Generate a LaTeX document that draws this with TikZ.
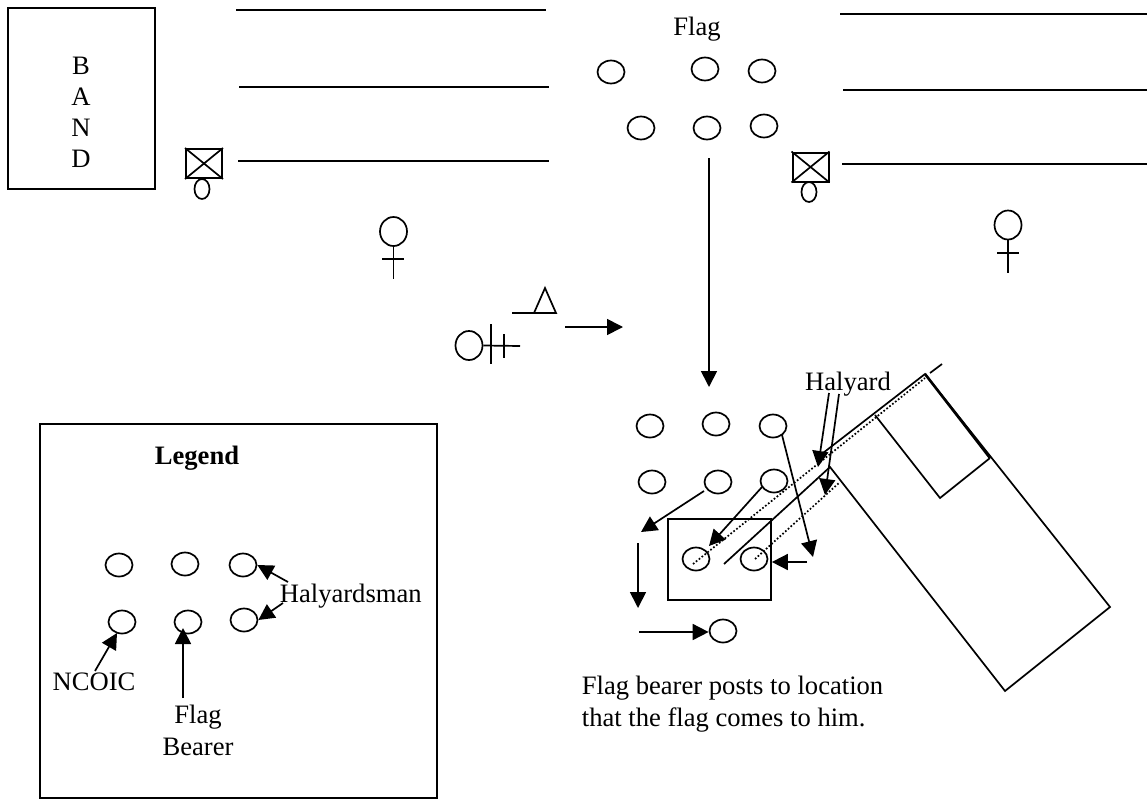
\documentclass[tikz,border=0pt]{standalone}
\usepackage{fontspec}
\setmainfont{Liberation Serif}
\usetikzlibrary{arrows.meta}
\usetikzlibrary{shapes.geometric}
\tikzset{
  body/.style={draw, ellipse, inner sep=0pt, minimum width=27, minimum height=23},
  guard/.style={draw, ellipse, inner sep=0pt, minimum width=15, minimum height=20},
  head/.style={draw, ellipse, inner sep=0pt, minimum width=27, minimum height=29},
  crate/.style={draw, rectangle, line width=2pt, inner sep=0pt, minimum width=36, minimum height=29},
  arr/.style={-{Triangle[length=16pt,width=16pt]}},
  word/.style={font=\fontsize{26.6}{31}\selectfont, inner sep=0pt},
  wordwide/.style={font=\fontsize{26.6}{32}\selectfont, inner sep=0pt}
}
\begin{document}
\begin{tikzpicture}[x=1pt,y=-1pt,line width=1.7pt]
    \useasboundingbox (0,0) rectangle (1147,800);
    % -------------------------
    % Band and ranks
    % -------------------------
    \node[draw, rectangle, inner sep=0pt, minimum width=147, minimum height=181] (band) at (81.5,98.5) {};
    \node[word, align=center] (bandname) at (81,112) {B\\A\\N\\D};
    \coordinate (l1a) at (236,10);  \coordinate (l1b) at (546,10);
    \coordinate (l2a) at (239,87);  \coordinate (l2b) at (549,87);
    \coordinate (l3a) at (238,161); \coordinate (l3b) at (549,161);
    \coordinate (r1a) at (840,14);  \coordinate (r1b) at (1147,14);
    \coordinate (r2a) at (843,90);  \coordinate (r2b) at (1147,90);
    \coordinate (r3a) at (842,164); \coordinate (r3b) at (1147,164);
    \draw (l1a) -- (l1b);
    \draw (l2a) -- (l2b);
    \draw (l3a) -- (l3b);
    \draw (r1a) -- (r1b);
    \draw (r2a) -- (r2b);
    \draw (r3a) -- (r3b);

    % -------------------------
    % Colour party, start
    % -------------------------
    \node[word] (flag) at (697,29) {Flag};
    \node[body] (a1) at (611,72) {};
    \node[body] (a2) at (705,69) {};
    \node[body] (a3) at (762,71) {};
    \node[body] (a4) at (641,128) {};
    \node[body] (a5) at (707,128) {};
    \node[body] (a6) at (764,126) {};

    % Crossed boxes
    \node[crate] (cl) at (204,163.5) {};
    \node[guard] (gl) at (202,189) {};
    \draw (cl.north west) -- (cl.south east);
    \draw (cl.north east) -- (cl.south west);
    \node[crate] (cr) at (810.5,167) {};
    \node[guard] (gr) at (809,192) {};
    \draw (cr.north west) -- (cr.south east);
    \draw (cr.north east) -- (cr.south west);

    % Standing figures
    \node[head] (hl) at (393.5,231.5) {};
    \coordinate (hle) at (393.5,279);
    \coordinate (hla) at (382,259); \coordinate (hlb) at (404,259);
    \draw (hl) -- (hle);
    \draw (hla) -- (hlb);
    \node[head] (hr) at (1008,225) {};
    \coordinate (hre) at (1008,273);
    \coordinate (hra) at (997,253); \coordinate (hrb) at (1019,253);
    \draw (hr) -- (hre);
    \draw (hra) -- (hrb);

    % Commander and triangle
    \node[head] (hm) at (469,345.5) {};
    \coordinate (hme) at (520,346);
    \coordinate (ba) at (491,324); \coordinate (bb) at (491,364);
    \coordinate (bc) at (504,334); \coordinate (bd) at (504,358);
    \draw (hm.east) -- (hme);
    \draw (ba) -- (bb);
    \draw (bc) -- (bd);
    \coordinate (ta) at (512,313); \coordinate (tb) at (534,313);
    \coordinate (tc) at (545,288); \coordinate (td) at (556,313);
    \draw (ta) -- (td) -- (tc) -- (tb);
    \coordinate (ma) at (565,327); \coordinate (mb) at (623,327);
    \draw[arr] (ma) -- (mb);
    \coordinate (da) at (709,158); \coordinate (db) at (709,387);
    \draw[arr] (da) -- (db);

    % -------------------------
    % Colour party, at the vehicle
    % -------------------------
    \node[body] (b1) at (650,426) {};
    \node[body] (b2) at (716,424) {};
    \node[body] (b3) at (773,426) {};
    \node[body] (b4) at (652,482) {};
    \node[body] (b5) at (718,482) {};
    \node[body] (b6) at (774,481) {};
    \node[body] (b7) at (696,559) {};
    \node[body] (b8) at (754,559) {};
    \node[body] (b9) at (723,631) {};
    \node[draw, rectangle, inner sep=0pt, minimum width=103, minimum height=81] (spot) at (719.5,559.5) {};

    % Vehicle
    \coordinate (v1) at (925,374);
    \coordinate (v2) at (1110,607);
    \coordinate (v3) at (1005,691);
    \coordinate (v4) at (830,467);
    \coordinate (v5) at (823,453);
    \coordinate (v6) at (724,564);
    \coordinate (c1) at (875,415);
    \coordinate (c2) at (940,498);
    \coordinate (c3) at (990,458);
    \coordinate (d1) at (930,373);
    \coordinate (d2) at (942,364);
    \draw (v6) -- (v4) -- (v3) -- (v2) -- (v1) -- (v5);
    \draw (c1) -- (c2) -- (c3);
    \draw[line width=2.6pt] (v1) -- (c3);
    \draw (d1) -- (d2);
    \coordinate (s1) at (693,564);
    \coordinate (s2) at (925,378);
    \coordinate (s3) at (755,559);
    \coordinate (s4) at (840,482);
    \draw[dotted] (s1) -- (s2);
    \draw[dotted] (s3) -- (s4);

    % Moves
    \coordinate (f1) at (782,435);
    \coordinate (f2) at (762,487);
    \coordinate (f3) at (704,491);
    \coordinate (e1) at (813,557);
    \coordinate (e2) at (709,546);
    \coordinate (e3) at (641,532);
    \coordinate (e4) at (638,543);
    \coordinate (e5) at (638,608);
    \coordinate (e6) at (639,632);
    \coordinate (e7) at (807,562);
    \draw[arr] (f1) -- (e1);
    \draw[arr] (f2) -- (e2);
    \draw[arr] (f3) -- (e3);
    \draw[arr] (e4) -- (e5);
    \draw[arr] (e6) -- (b9.west |- e6);
    \draw[arr] (e7) -- (spot.east |- e7);

    \node[word] (halyard) at (848,384) {Halyard};
    \coordinate (h1a) at (829,393); \coordinate (h1b) at (818,467);
    \coordinate (h2a) at (839,394); \coordinate (h2b) at (825,495);
    \draw[arr] (h1a) -- (h1b);
    \draw[arr] (h2a) -- (h2b);

    \node[wordwide, anchor=west, align=left] (note) at (581,704) {Flag bearer posts to location\\that the flag comes to him.};

    % -------------------------
    % Legend
    % -------------------------
    \node[draw, rectangle, inner sep=0pt, minimum width=397, minimum height=374] (legend) at (238.5,611) {};
    \node[word, font=\fontsize{26.6}{31}\selectfont\bfseries] (legendname) at (197,458) {Legend};
    \node[body] (k1) at (119,565) {};
    \node[body] (k2) at (185,564) {};
    \node[body] (k3) at (243,565) {};
    \node[body] (k4) at (122,622) {};
    \node[body] (k5) at (188,622) {};
    \node[body] (k6) at (244,620) {};
    \node[word, anchor=west] (hman) at (279,596) {Halyardsman};
    \node[word] (ncoic) at (94,682) {NCOIC};
    \node[wordwide, align=center] (bearer) at (198,730) {Flag\\Bearer};
    \coordinate (p1) at (288,582);
    \coordinate (p2) at (283,603);
    \coordinate (p3) at (95,671);
    \coordinate (p4) at (183,698);
    \coordinate (q3) at (117,633);
    \coordinate (q4) at (183,628);
    \draw[arr] (p1) -- (k3.east);
    \draw[arr] (p2) -- (k6.east);
    \draw[arr] (p3) -- (q3);
    \draw[arr] (p4) -- (q4);
\end{tikzpicture}
\end{document}
